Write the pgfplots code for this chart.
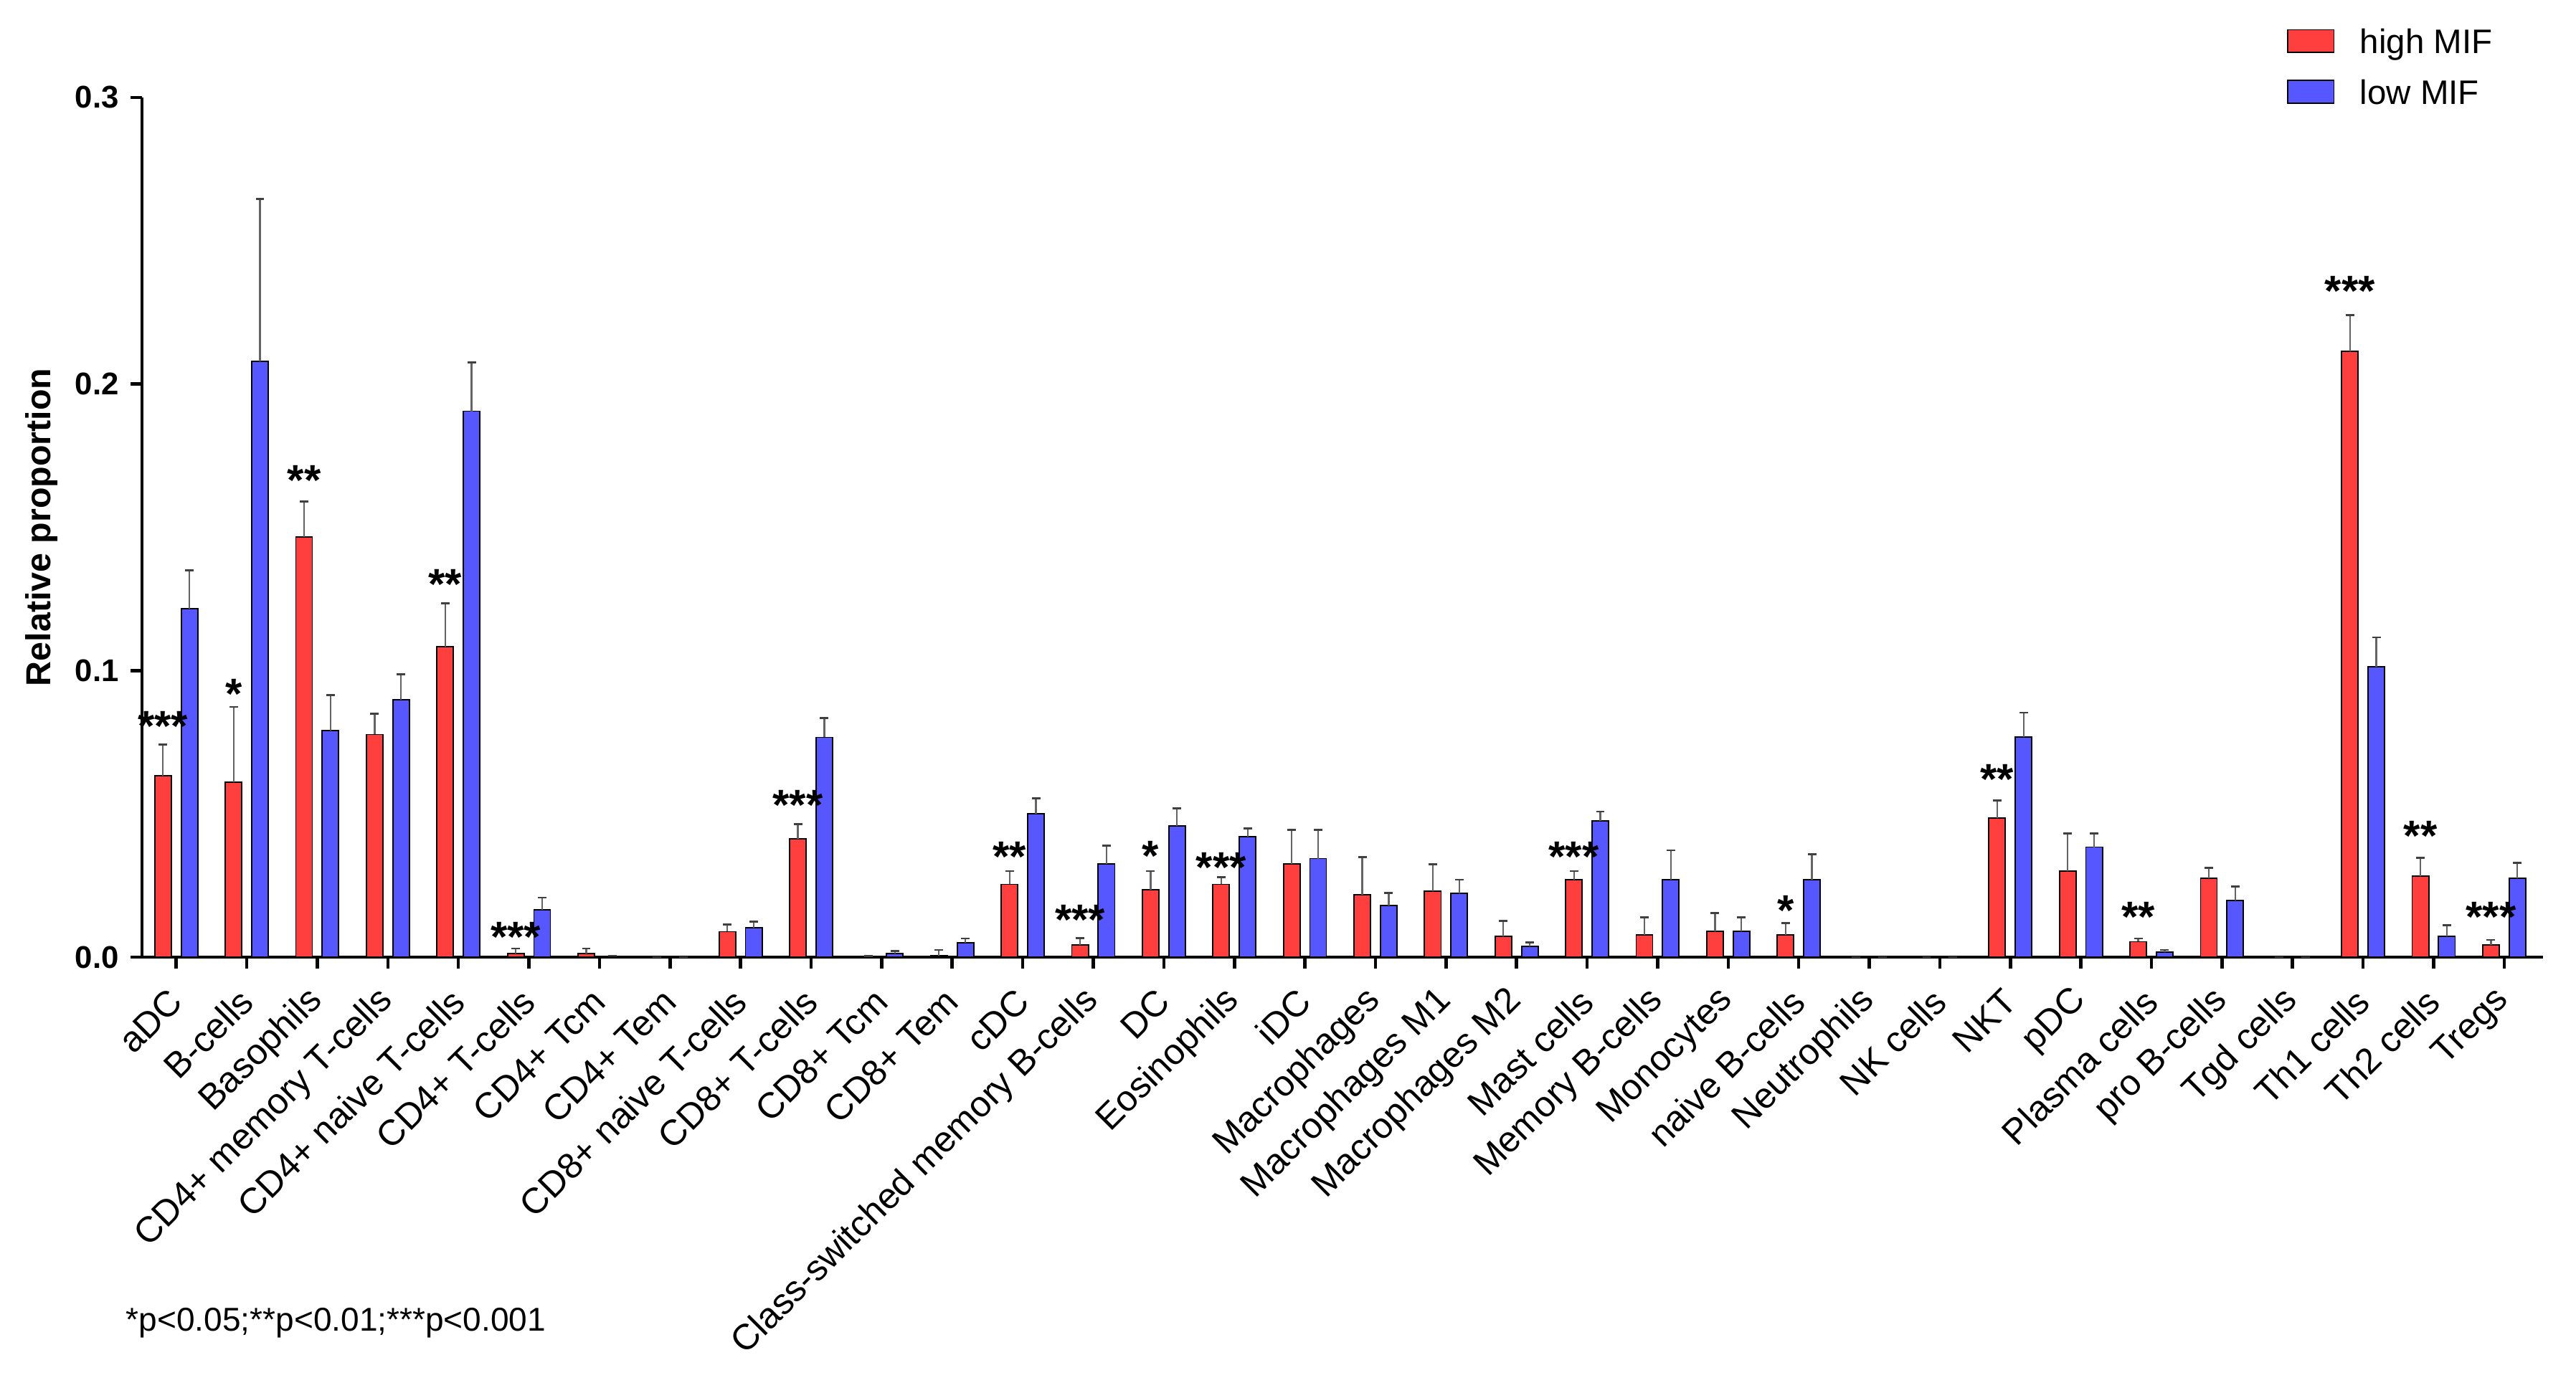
\documentclass[border=0pt]{standalone}
\usepackage{fontspec}
\setmainfont{Liberation Sans}
\usepackage{pgfplots}
\pgfplotsset{compat=1.18}
\usepackage{pgfplotstable}

\definecolor{himif}{RGB}{255,62,62}
\definecolor{lomif}{RGB}{87,87,255}
\definecolor{errgray}{RGB}{100,100,100}

% i: category index, r/re: high MIF mean and error, b/be: low MIF mean and error
\pgfplotstableread{
i  r      re     b      be
0  0.0632 0.0110 0.1215 0.0135
1  0.0610 0.0263 0.2080 0.0565
2  0.1467 0.0123 0.0790 0.0124
3  0.0777 0.0072 0.0898 0.0089
4  0.1083 0.0152 0.1905 0.0170
5  0.0013 0.0017 0.0165 0.0043
6  0.0013 0.0017 0.0003 0.0002
7  0      0      0      0
8  0.0089 0.0025 0.0102 0.0022
9  0.0413 0.0051 0.0767 0.0067
10 0.0002 0.0001 0.0012 0.0010
11 0.0006 0.0019 0.0050 0.0015
12 0.0254 0.0046 0.0500 0.0054
13 0.0043 0.0024 0.0325 0.0065
14 0.0235 0.0065 0.0458 0.0061
15 0.0254 0.0025 0.0421 0.0029
16 0.0325 0.0120 0.0344 0.0101
17 0.0217 0.0132 0.0180 0.0044
18 0.0230 0.0095 0.0222 0.0048
19 0.0073 0.0054 0.0037 0.0015
20 0.0270 0.0030 0.0475 0.0033
21 0.0078 0.0060 0.0270 0.0103
22 0.0090 0.0064 0.0090 0.0049
23 0.0077 0.0042 0.0270 0.0090
24 0      0      0      0
25 0      0      0      0
26 0.0486 0.0060 0.0769 0.0084
27 0.0300 0.0132 0.0384 0.0048
28 0.0054 0.0011 0.0018 0.0007
29 0.0276 0.0036 0.0198 0.0048
30 0      0      0      0
31 0.2115 0.0125 0.1014 0.0102
32 0.0283 0.0064 0.0072 0.0040
33 0.0042 0.0018 0.0276 0.0054
}\cells

\begin{document}
\begin{tikzpicture}
\path[use as bounding box] (-43pt,-130.5pt) rectangle (737pt,289.9pt);
\begin{axis}[
  name=ax, at={(0,0)}, anchor=south west,
  scale only axis, width=727pt, height=260.4pt,
  ybar, bar width=5pt,
  xmin=-0.485, xmax=33.55, ymin=0, ymax=0.3,
  axis x line*=bottom, axis y line*=left,
  axis line style={-, line width=1pt},
  tick align=outside, major tick length=3.5pt,
  tick style={black, line width=1pt},
  xtick={0,...,33},
  xticklabels={aDC,B-cells,Basophils,CD4+ memory T-cells,CD4+ naive T-cells,CD4+ T-cells,CD4+ Tcm,CD4+ Tem,CD8+ naive T-cells,CD8+ T-cells,CD8+ Tcm,CD8+ Tem,cDC,Class-switched memory B-cells,DC,Eosinophils,iDC,Macrophages,Macrophages M1,Macrophages M2,Mast cells,Memory B-cells,Monocytes,naive B-cells,Neutrophils,NK cells,NKT,pDC,Plasma cells,pro B-cells,Tgd cells,Th1 cells,Th2 cells,Tregs},
  xticklabel style={font=\fontsize{10.9}{12}\selectfont, rotate=45, anchor=east, inner sep=0pt},
  xticklabel shift=8pt,
  ytick={0,0.1,0.2,0.3},
  yticklabel style={font=\bfseries\fontsize{9.5}{11}\selectfont,
    /pgf/number format/.cd, fixed, fixed zerofill, precision=1, assume math mode=true},
  ylabel={Relative proportion},
  every axis y label/.style={at={(axis description cs:-0.0417,0.5)}, rotate=90, anchor=center,
    font=\bfseries\fontsize{10.5}{12}\selectfont},
  legend cell align=left,
  legend style={at={(axis description cs:0.8934,1.0837)}, anchor=north west,
    draw=none, fill=none, inner sep=0pt, outer sep=0pt, row sep=6pt,
    font=\fontsize{10.3}{12}\selectfont,
    nodes={inner sep=1pt, text height=7.4pt, text depth=0pt},
    /tikz/every odd column/.append style={column sep=6.7pt}},
  clip=false,
]
\addplot[bar shift=-4pt, fill=himif, draw=black, line width=0.4pt,
  legend image code/.code={\draw[fill=himif, draw=black, line width=0.4pt] (0pt,-3.4pt) rectangle (14pt,3.4pt);},
  error bars/.cd, y dir=plus, y explicit,
  error bar style={line width=0.5pt, errgray},
  error mark options={rotate=90, line width=0.6pt, black!75, mark size=1.3pt}]
  table[x=i, y=r, y error=re] {\cells};
\addlegendentry{high MIF}
\addplot[bar shift=4pt, fill=lomif, draw=black, line width=0.4pt,
  legend image code/.code={\draw[fill=lomif, draw=black, line width=0.4pt] (0pt,-3.4pt) rectangle (14pt,3.4pt);},
  error bars/.cd, y dir=plus, y explicit,
  error bar style={line width=0.5pt, errgray},
  error mark options={rotate=90, line width=0.6pt, black!75, mark size=1.3pt}]
  table[x=i, y=b, y error=be] {\cells};
\addlegendentry{low MIF}
% significance marks above the high MIF bars
\addplot[forget plot, bar shift=-4pt, draw=none, fill=none, nodes near coords, point meta=explicit symbolic,
  every node near coord/.style={anchor=center, inner sep=0pt, xshift=-4pt, yshift=-3pt,
    font=\bfseries\fontsize{13}{13}\selectfont}]
  coordinates {
  (0,0.0840) [***] (1,0.0954) [*] (2,0.1698) [**] (4,0.1336) [**] (5,0.0105) [***]
  (9,0.0566) [***] (12,0.0385) [**] (13,0.0164) [***] (14,0.0387) [*] (15,0.0348) [***]
  (20,0.0385) [***] (23,0.0197) [*] (26,0.0656) [**] (28,0.0174) [**] (31,0.2359) [***]
  (32,0.0458) [**] (33,0.0174) [***]
  };
\end{axis}
\node[anchor=base west, inner sep=0pt, font=\fontsize{10}{12}\selectfont] at (-5pt,-113.3pt) {*p<0.05;**p<0.01;***p<0.001};
\end{tikzpicture}
\end{document}
